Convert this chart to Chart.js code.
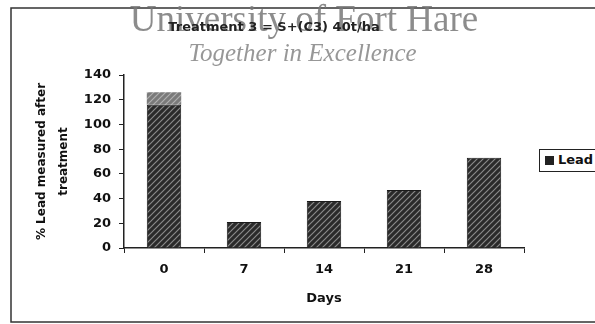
<!DOCTYPE html>
<html>
<head>
<meta charset="utf-8">
<script src="https://cdn.jsdelivr.net/npm/chart.js@4/dist/chart.umd.min.js"></script>
<style>
  html, body { margin: 0; padding: 0; background: #fff; }
  #wrap { position: relative; width: 595px; height: 324px; overflow: hidden; }
  canvas { position: absolute; left: 0; top: 0; }
  .wm1 { position: absolute; left: 0; width: 608px; top: -3px; text-align: center;
         font-family: "Liberation Serif", serif; font-size: 37px; color: rgba(120,120,120,0.85); z-index: 2; }
  .wm2 { position: absolute; left: 0; width: 605px; top: 39px; text-align: center;
         font-family: "Liberation Serif", serif; font-style: italic; font-size: 25px; color: rgba(140,140,140,0.9); z-index: 2; }
  .title { position: absolute; left: 0; width: 548px; top: 19px; text-align: center;
           font-family: "DejaVu Sans", sans-serif; font-weight: bold; font-size: 13px; color: #222; z-index: 3; }
  .legend { position: absolute; left: 539px; top: 149px; width: 80px; height: 21px;
            border: 1.5px solid #222; background: #fff; z-index: 1;
            font-family: "DejaVu Sans", sans-serif; font-weight: bold; font-size: 13px; color: #111; }
  .legend .sw { position: absolute; left: 5px; top: 6px; width: 9px; height: 9px; background: #222; }
  .legend .tx { position: absolute; left: 18px; top: 2px; }
</style>
</head>
<body>
<div id="wrap">
  <canvas id="c" width="595" height="324"></canvas>
  <div class="title" id="title"></div>
  <div class="wm1">University of Fort Hare</div>
  <div class="wm2">Together in Excellence</div>
  <div class="legend"><div class="sw"></div><div class="tx" id="legtx"></div></div>
</div>
<script>
const chartTitle = "Treatment 3 = S+(C3) 40t/ha";
const categories = ["0", "7", "14", "21", "28"];
const leadValues = [116, 21, 38, 47, 73];
const topValues = [10, 0, 0, 0, 0];
const yTicks = [0, 20, 40, 60, 80, 100, 120, 140];
const yTitle = ["% Lead measured after", "treatment"];
const xTitle = "Days";
const seriesName = "Lead";

document.getElementById('title').textContent = chartTitle;
document.getElementById('legtx').textContent = seriesName;

function makePattern(base, stripe) {
  const p = document.createElement('canvas');
  p.width = 6; p.height = 6;
  const g = p.getContext('2d');
  g.fillStyle = base; g.fillRect(0, 0, 6, 6);
  g.strokeStyle = stripe; g.lineWidth = 1.2;
  g.beginPath();
  g.moveTo(0, 6); g.lineTo(6, 0);
  g.moveTo(-3, 3); g.lineTo(3, -3);
  g.moveTo(3, 9); g.lineTo(9, 3);
  g.stroke();
  return g.createPattern(p, 'repeat');
}
const ctx = document.getElementById('c').getContext('2d');
const darkPat = makePattern('#2a2a2a', '#8a8a8a');
const lightPat = makePattern('#7a7a7a', '#b0b0b0');

const borderPlugin = {
  id: 'outerBorder',
  beforeDraw(chart) {
    const c = chart.ctx;
    c.save();
    c.fillStyle = '#fff';
    c.fillRect(0, 0, chart.width, chart.height);
    c.strokeStyle = '#333';
    c.lineWidth = 1.5;
    c.strokeRect(11, 8, 600, 314);
    c.restore();
  }
};

const tickFont = { family: 'DejaVu Sans', weight: 'bold', size: 13 };

new Chart(ctx, {
  type: 'bar',
  data: {
    labels: categories,
    datasets: [
      { label: seriesName, data: leadValues, backgroundColor: darkPat, borderColor: '#1a1a1a', borderWidth: 1,
        barPercentage: 0.43, categoryPercentage: 1.0 },
      { label: 'top', data: topValues, backgroundColor: lightPat, borderColor: '#777', borderWidth: 0,
        barPercentage: 0.43, categoryPercentage: 1.0 }
    ]
  },
  options: {
    responsive: false,
    animation: false,
    devicePixelRatio: 1,
    layout: { padding: { left: 30, right: 71, top: 75, bottom: 0 } },
    plugins: { legend: { display: false }, title: { display: false }, tooltip: { enabled: false } },
    scales: {
      x: {
        stacked: true,
        grid: { display: true, drawOnChartArea: false, drawTicks: true, tickLength: 5, color: '#222', offset: true },
        border: { display: true, color: '#222', width: 1.5 },
        ticks: { color: '#111', font: tickFont, padding: 9 },
        title: { display: true, text: xTitle, color: '#111', font: { family: 'DejaVu Sans', weight: 'bold', size: 13 }, padding: { top: 6, bottom: 18 } },
        afterFit(s) { s.height = 76; }
      },
      y: {
        stacked: true,
        min: 0, max: 140,
        afterBuildTicks(s) { s.ticks = yTicks.map(v => ({ value: v })); },
        grid: { display: true, drawOnChartArea: false, drawTicks: true, tickLength: 5, color: '#222' },
        border: { display: true, color: '#222', width: 1.5 },
        ticks: { color: '#111', font: tickFont, padding: 8 },
        title: { display: true, text: yTitle, color: '#111', font: { family: 'DejaVu Sans', weight: 'bold', size: 12, lineHeight: 1.9 }, padding: 0 },
        afterFit(s) { s.width = 94; }
      }
    }
  },
  plugins: [borderPlugin]
});
</script>
</body>
</html>
